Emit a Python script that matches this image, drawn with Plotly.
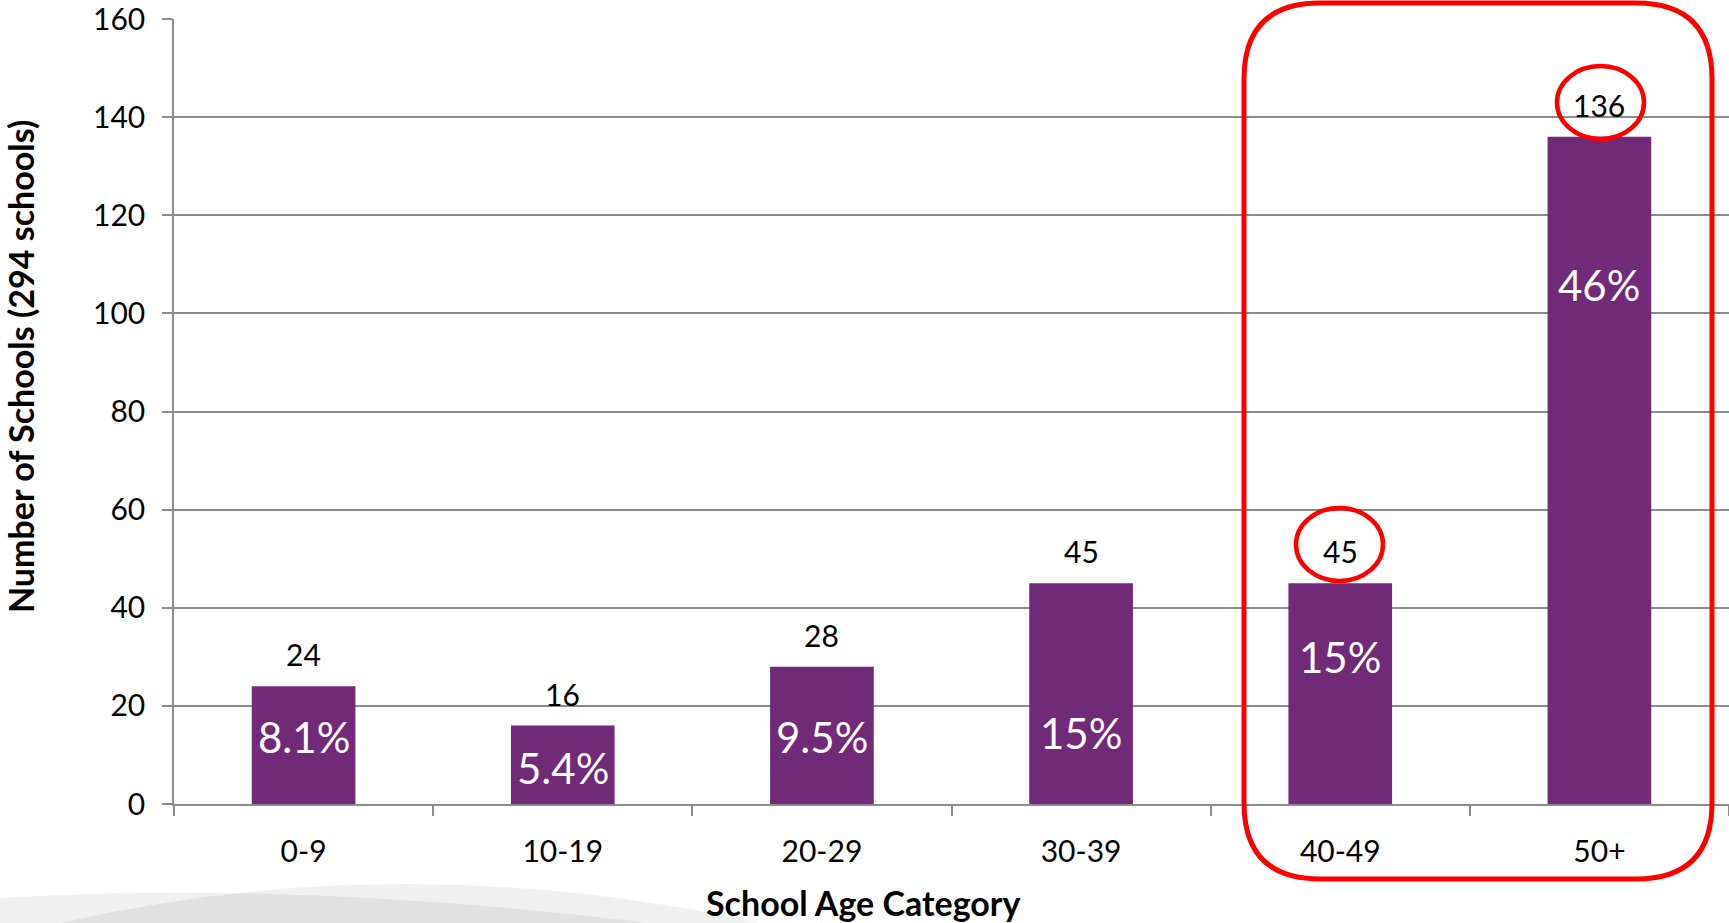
import plotly.graph_objects as go

# ---- data ----
categories = ["0-9", "10-19", "20-29", "30-39", "40-49", "50+"]
schools = [24, 16, 28, 45, 45, 136]
pct_labels = ["8.1%", "5.4%", "9.5%", "15%", "15%", "46%"]
pct_label_y = [13.7, 7.3, 13.7, 14.5, 29.9, 105.8]
y_ticks = [0, 20, 40, 60, 80, 100, 120, 140, 160]

# ---- layout geometry (pixels) ----
W, H = 1729, 923
L, R, T, B = 174, 0, 19, 119
PW, PH = W - L - R, H - T - B

def px(x):
    return (x - L) / PW

def py(y):
    return (H - B - y) / PH

def path_from(points_cmds):
    out = []
    for cmd, pts in points_cmds:
        coords = [f"{px(x):.5f},{py(y):.5f}" for (x, y) in pts]
        out.append(cmd + " " + " ".join(coords))
    return " ".join(out) + " Z"

FONT = "Lato"
BAR_COLOR = "#702A78"
GRID = "#8C8C8C"
RED = "#FF0000"

fig = go.Figure()
fig.add_trace(go.Bar(
    x=categories, y=schools, marker=dict(color=BAR_COLOR, line=dict(width=0)),
    hoverinfo="skip", showlegend=False,
))

annotations = []
for c, v in zip(categories, schools):
    annotations.append(dict(x=c, y=v, xref="x", yref="y", text=str(v), showarrow=False,
                            yanchor="middle", yshift=32,
                            font=dict(family=FONT, size=30, color="black")))
for c, t, yy in zip(categories, pct_labels, pct_label_y):
    annotations.append(dict(x=c, y=yy, xref="x", yref="y", text=t, showarrow=False,
                            yanchor="middle",
                            font=dict(family=FONT, size=42, color="white")))
annotations.append(dict(x=px(20), y=py(367), xref="paper", yref="paper",
                        text="<b>Number of Schools (294 schools)</b>", textangle=-90,
                        showarrow=False, xanchor="center", yanchor="middle",
                        font=dict(family=FONT, size=34, color="black")))
annotations.append(dict(x=px(863), y=py(902), xref="paper", yref="paper",
                        text="<b>School Age Category</b>",
                        showarrow=False, xanchor="center", yanchor="middle",
                        font=dict(family=FONT, size=34, color="black")))

shapes = []
# background swooshes (slide decoration)
shapes.append(dict(type="path", xref="paper", yref="paper", layer="below",
                   path=path_from([("M", [(0, 898)]), ("Q", [(300, 880), (650, 923)]), ("L", [(0, 923)])]),
                   fillcolor="rgba(0,0,0,0.06)", line=dict(width=0)))
shapes.append(dict(type="path", xref="paper", yref="paper", layer="below",
                   path=path_from([("M", [(60, 923)]), ("Q", [(400, 845), (760, 923)])]),
                   fillcolor="rgba(0,0,0,0.06)", line=dict(width=0)))

# rounded highlight rectangle
x0, x1, y0, y1, r = 1244, 1712, 3, 879, 76
shapes.append(dict(type="path", xref="paper", yref="paper",
                   path=path_from([
                       ("M", [(x0 + r, y0)]), ("L", [(x1 - r, y0)]),
                       ("Q", [(x1, y0), (x1, y0 + r)]), ("L", [(x1, y1 - r)]),
                       ("Q", [(x1, y1), (x1 - r, y1)]), ("L", [(x0 + r, y1)]),
                       ("Q", [(x0, y1), (x0, y1 - r)]), ("L", [(x0, y0 + r)]),
                       ("Q", [(x0, y0), (x0 + r, y0)]),
                   ]),
                   line=dict(color=RED, width=5)))
# ellipses around value labels
for (ex0, ey0, ex1, ey1) in [(1296, 508, 1383, 581), (1557, 66, 1644, 139)]:
    shapes.append(dict(type="circle", xref="paper", yref="paper",
                       x0=px(ex0), x1=px(ex1), y0=py(ey1), y1=py(ey0),
                       line=dict(color=RED, width=4.5)))

fig.update_layout(
    width=W, height=H,
    margin=dict(l=L, r=R, t=T, b=B, pad=0),
    paper_bgcolor="white", plot_bgcolor="white",
    bargap=0.6,
    font=dict(family=FONT, color="black"),
    annotations=annotations, shapes=shapes,
    xaxis=dict(type="category", tickson="boundaries", ticks="outside", ticklen=10,
               tickcolor=GRID, tickwidth=1.5, showline=True, linecolor=GRID, linewidth=1.5,
               showgrid=False, tickfont=dict(family=FONT, size=30, color="black"),
               ticklabelstandoff=20, ticklabeloverflow="allow", fixedrange=True),
    yaxis=dict(range=[0, 160], tickvals=y_ticks, ticks="outside", ticklen=10,
               tickcolor=GRID, tickwidth=1.5, showline=True, linecolor=GRID, linewidth=1.5,
               showgrid=True, gridcolor=GRID, gridwidth=1.5, zeroline=False,
               tickfont=dict(family=FONT, size=30, color="black"),
               ticklabelstandoff=11, ticklabeloverflow="allow", fixedrange=True),
)

fig.write_html("out.html", config={"displayModeBar": False})
